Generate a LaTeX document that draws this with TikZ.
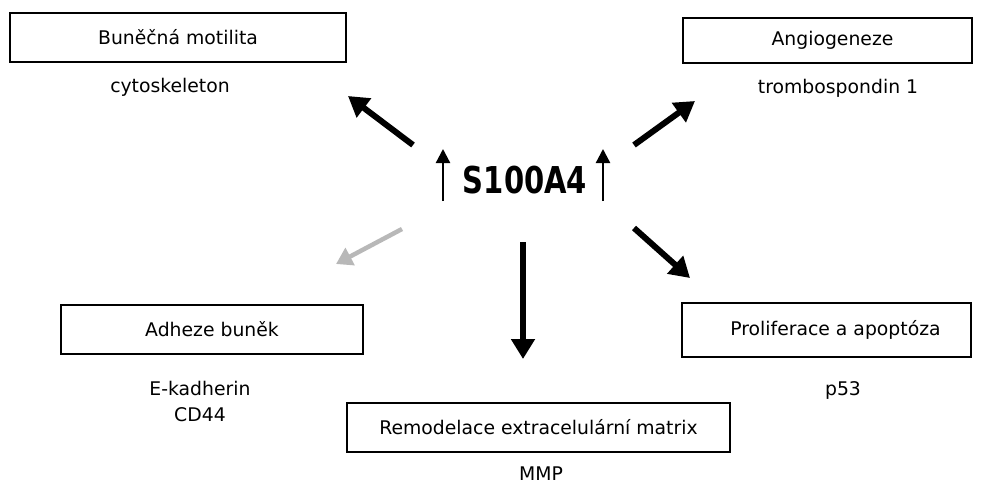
\documentclass[tikz,border=0pt]{standalone}
\usepackage{fontspec}
\setmainfont{DejaVu Sans}
\usetikzlibrary{arrows.meta}
\begin{document}
\begin{tikzpicture}[x=1pt,y=-1pt,
  box/.style={draw, line width=1.8pt, inner sep=0pt, font=\fontsize{18.8}{22}\selectfont},
  lbl/.style={inner sep=0pt, font=\fontsize{18.8}{22}\selectfont},
  big/.style={line width=6pt, -{Triangle[length=20pt,width=23pt]}},
  small/.style={line width=2.3pt, -{Triangle[length=14pt,width=14pt]}}]
\useasboundingbox (0,0) rectangle (984,484);
% boxes
\node[box, minimum width=336pt, minimum height=49pt] (mot) at (178,37.5) {Buněčná motilita};
\node[box, minimum width=289pt, minimum height=45pt] (ang) at (827.5,40.5) {\hspace*{10pt}Angiogeneze};
\node[box, minimum width=302pt, minimum height=49pt] (adh) at (212,329.5) {Adheze buněk};
\node[box, minimum width=383pt, minimum height=49pt] (rem) at (538.5,427.5) {Remodelace extracelulární matrix};
\node[box, minimum width=289pt, minimum height=54pt] (pro) at (826.5,330) {\hspace*{18pt}Proliferace a apoptóza};
% labels
\node[lbl] (cyt) at (170,87) {cytoskeleton};
\node[lbl] (tro) at (838,88) {trombospondin 1};
\node[lbl] (ekad) at (200,388) {E-kadherin};
\node[lbl] (cd) at (200,415) {CD44};
\node[lbl] (mmp) at (541,474) {MMP};
\node[lbl] (p53) at (843,390) {p53};
% central
\node[inner sep=0pt, font=\bfseries\fontsize{37}{40}\selectfont] (s) at (525,180) {\scalebox{0.785}[1]{S100A4}};
\coordinate (u1s) at (443,201); \coordinate (u1e) at (443,149);
\coordinate (u2s) at (603,201); \coordinate (u2e) at (603,149);
\draw[small] (u1s) -- (u1e);
\draw[small] (u2s) -- (u2e);
% arrows
\coordinate (a1s) at (413,145); \coordinate (a1e) at (348,96);
\coordinate (a2s) at (634,145); \coordinate (a2e) at (695,101);
\coordinate (a3s) at (402,229); \coordinate (a3e) at (336,264);
\coordinate (a4s) at (523,242); \coordinate (a4e) at (523,359);
\coordinate (a5s) at (634,228); \coordinate (a5e) at (690,278);
\draw[big] (a1s) -- (a1e);
\draw[big] (a2s) -- (a2e);
\draw[draw=black!28, line width=4.5pt, -{Triangle[length=16pt,width=19pt]}] (a3s) -- (a3e);
\draw[big] (a4s) -- (a4e);
\draw[big] (a5s) -- (a5e);
\end{tikzpicture}
\end{document}
